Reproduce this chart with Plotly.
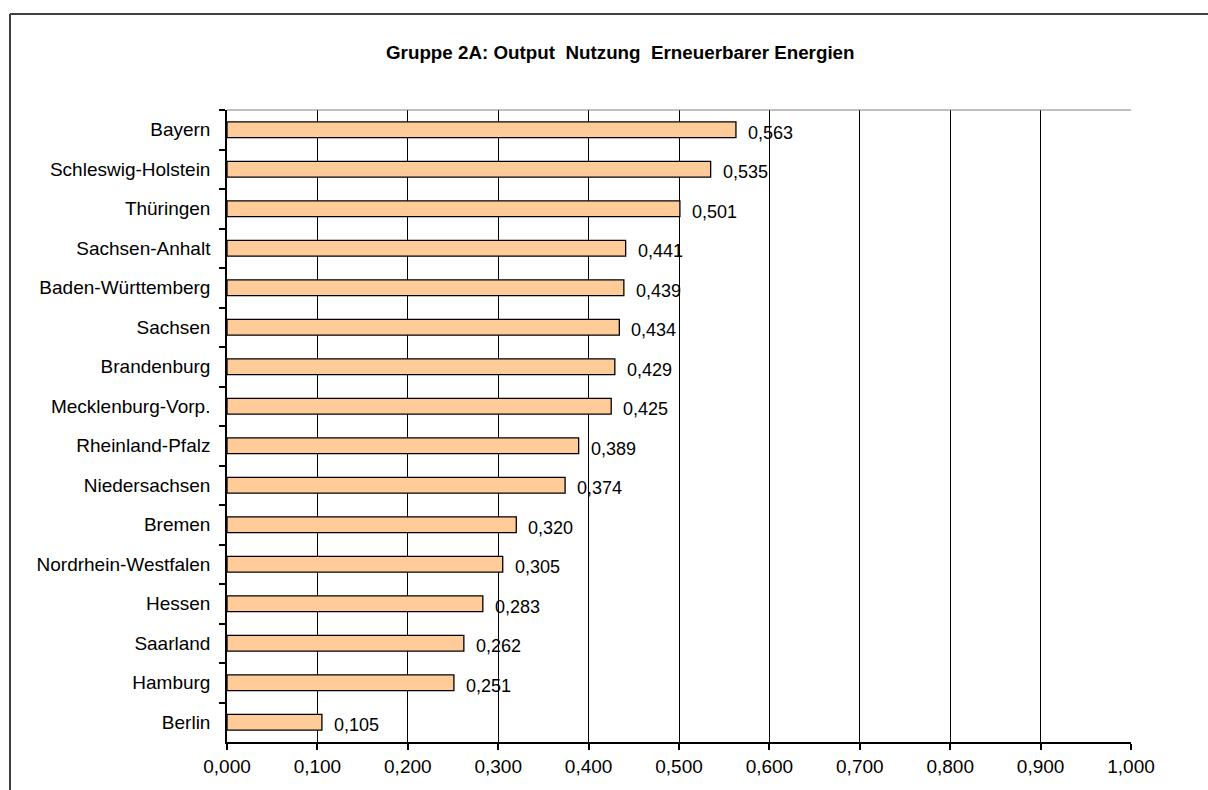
import plotly.graph_objects as go

categories = ["Bayern", "Schleswig-Holstein", "Thüringen", "Sachsen-Anhalt",
              "Baden-Württemberg", "Sachsen", "Brandenburg", "Mecklenburg-Vorp.",
              "Rheinland-Pfalz", "Niedersachsen", "Bremen", "Nordrhein-Westfalen",
              "Hessen", "Saarland", "Hamburg", "Berlin"]
values = [0.563, 0.535, 0.501, 0.441, 0.439, 0.434, 0.429, 0.425,
          0.389, 0.374, 0.320, 0.305, 0.283, 0.262, 0.251, 0.105]
tick_vals = [i / 10 for i in range(11)]
tick_text = ["0,000", "0,100", "0,200", "0,300", "0,400", "0,500",
             "0,600", "0,700", "0,800", "0,900", "1,000"]
title_text = "Gruppe 2A: Output&nbsp;&nbsp;Nutzung&nbsp;&nbsp;Erneuerbarer Energien"

W, H = 1208, 790
L, R, T, B = 227, 1131, 110, 742
FONT = "Liberation Sans, Arial, sans-serif"

def px(x):
    return (x - L) / (R - L)

def py(y):
    return (B - y) / (B - T)

fig = go.Figure()
fig.add_trace(go.Bar(
    x=values, y=categories, orientation="h", width=0.4,
    marker=dict(color="#FFCC99", line=dict(color="black", width=1.3)),
    hoverinfo="skip", showlegend=False,
))

annotations = []
for c, v in zip(categories, values):
    annotations.append(dict(
        x=v, y=c, xref="x", yref="y", text=f"{v:.3f}".replace(".", ","),
        showarrow=False, xanchor="left", yanchor="middle", xshift=10, yshift=-3,
        font=dict(family=FONT, size=18, color="black"),
    ))
annotations.append(dict(
    x=px(620), y=py(53), xref="paper", yref="paper", text=f"<b>{title_text}</b>",
    showarrow=False, xanchor="center", yanchor="middle",
    font=dict(family=FONT, size=18.8, color="black"),
))

shapes = [
    # outer chart frame (left and top visible)
    dict(type="line", xref="paper", yref="paper", x0=px(10), x1=px(10), y0=py(14), y1=py(800),
         line=dict(color="#404040", width=2)),
    dict(type="line", xref="paper", yref="paper", x0=px(10), x1=px(1220), y0=py(14), y1=py(14),
         line=dict(color="#404040", width=2)),
    # plot area top border
    dict(type="line", xref="paper", yref="paper", x0=0, x1=1, y0=1, y1=1,
         line=dict(color="#808080", width=1)),
]

fig.update_layout(
    width=W, height=H,
    margin=dict(l=L, r=W - R, t=T, b=H - B, pad=0),
    paper_bgcolor="white", plot_bgcolor="white",
    font=dict(family=FONT, size=19, color="black"),
    annotations=annotations, shapes=shapes,
    bargap=0.6,
    xaxis=dict(
        range=[0, 1], tickvals=tick_vals, ticktext=tick_text,
        showgrid=True, gridcolor="black", gridwidth=1,
        showline=True, linecolor="black", linewidth=1.5,
        ticks="outside", ticklen=6, tickcolor="black", tickwidth=1.5,
        zeroline=False, fixedrange=True, automargin=False,
        tickfont=dict(family=FONT, size=19, color="black"),
    ),
    yaxis=dict(
        type="category", autorange="reversed",
        showgrid=False, showline=True, linecolor="black", linewidth=1.5,
        ticks="outside", ticklen=6, tickcolor="black", tickwidth=1.5,
        tickson="boundaries", ticklabelstandoff=11, automargin=False,
        tickfont=dict(family=FONT, size=19, color="black"),
        fixedrange=True,
    ),
)

fig.write_html(
    "out.html",
    config={"displayModeBar": False},
    post_script="document.body.style.margin='0';document.body.style.overflow='hidden';",
)
